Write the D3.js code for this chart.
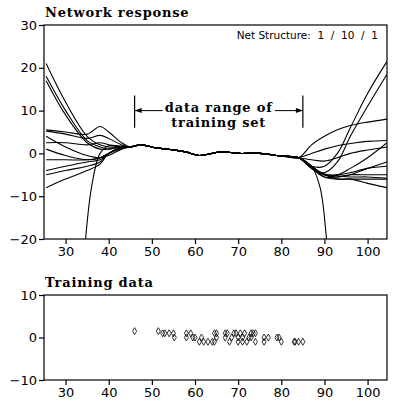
<!DOCTYPE html>
<html>
<head>
<style>
  body { margin: 0; background: #fff; }
  .tick text { font-family: "DejaVu Sans", sans-serif; font-size: 13px; }
  .title { font-family: "DejaVu Serif", serif; font-weight: bold; font-size: 13px; letter-spacing: 0.8px; }
</style>
</head>
<body>
<script src="https://d3js.org/d3.v7.min.js"></script>
<script>
var width = 400, height = 409;

// shared part of every curve inside the training range
var centerX = [45, 47.5, 51, 55, 58, 61, 63, 66, 70, 75, 80, 84];
var centerY = [1.5, 2, 1.3, 0.8, 0.3, -0.5, -0.2, 0.4, 0, 0, -0.6, -1];

// left tails: [x, y] pairs ending near x=43
var leftTails = [
    [[25.5, 21], [30, 12], [35, 4], [38, 2], [40, 1.5], [43, 1.5]],
    [[25.5, 18], [30, 10], [35, 3], [38, 1.5], [40, 1], [43, 1.5]],
    [[25.5, 17], [30, 9], [35, 2.5], [38, 1], [40, 1], [43, 1.5]],
    [[25.5, 5.5], [30, 5], [35, 4.5], [38, 6.3], [40, 5], [43, 2.5]],
    [[25.5, 5.2], [30, 4.5], [35, 3.5], [38, 4.2], [40, 3.5], [43, 2]],
    [[25.5, 4], [30, 1.5], [35, -0.5], [38, -1], [40, -0.5], [43, 1]],
    [[25.5, 2.5], [30, 2.5], [35, 2], [38, 2.5], [40, 2], [43, 1.5]],
    [[25.5, 1], [30, -0.5], [35, -1.5], [38, -1], [40, 0], [43, 1.3]],
    [[25.5, -1.5], [30, -1.5], [35, -1.5], [38, -1], [40, 0], [43, 1.2]],
    [[25.5, -4], [30, -3], [35, -2], [38, -1.5], [40, 0], [43, 1.3]],
    [[25.5, -5], [30, -4], [35, -3], [38, -2], [40, 0], [43, 1.3]],
    [[25.5, -8], [30, -6], [35, -4], [38, -2.5], [40, 0], [43, 1.3]],
    [[34, -28], [36, -8], [38, 0], [40, 1.8], [43, 1.7]]
];

// right tails: [x, y] pairs starting after x=84
var rightTails = [
    [[87, -3], [90, -3], [93, 0], [96, 6], [100, 14], [104.5, 21.5]],
    [[87, -3.5], [90, -4.5], [93, -2], [96, 4], [100, 11], [104.5, 18.5]],
    [[87, 2], [90, 4], [93, 5.5], [96, 6.5], [100, 7.3], [104.5, 8]],
    [[87, 0], [90, 1], [93, 1.8], [96, 2.3], [100, 2.8], [104.5, 3]],
    [[87, -1.5], [90, -1.8], [93, -1], [96, 0], [100, 0.8], [104.5, 1.5]],
    [[87, -3], [90, -5], [93, -5], [96, -3.5], [100, -1], [104.5, 2.5]],
    [[87, -3], [90, -5], [93, -5.5], [96, -5], [100, -3.5], [104.5, -2]],
    [[87, -3.5], [90, -5.5], [93, -5.5], [96, -5], [100, -5], [104.5, -5]],
    [[87, -3], [90, -5], [93, -6], [96, -6], [100, -6], [104.5, -6]],
    [[87, -3], [90, -5.5], [93, -6], [96, -6], [100, -7], [104.5, -8]],
    [[87, -3], [90, -5], [93, -5], [96, -4.5], [100, -3.5], [104.5, -3]],
    [[87, -3.2], [90, -4.8], [93, -5.2], [96, -5.5], [100, -5.5], [104.5, -5.8]],
    [[87, -3], [89, -8], [90.5, -20], [92, -35]]
];

// training set
var trainX = [46, 51.5, 52.5, 53, 54, 55, 55.2, 58, 58, 59, 59.5, 60, 61, 61.5, 62, 63, 64, 64.5, 64.5, 65, 65,
    67, 67, 67.5, 68, 68.5, 69, 69.5, 70, 70, 70.5, 71, 71, 71.5, 72, 72.5, 73, 73, 73.5, 74, 74,
    76, 76, 77, 79, 79.5, 80, 83, 83.2, 84, 85];
var trainY = [1.5, 1.5, 1, 1, 1, 1, 0, 1, 0, 1, 0, 0, -1, 0, -1, -1, -1, 1, -1, 0, 1,
    0, 1, 1, -1, 0, 1, 1, -1, 0, 1, 0, -1, 1, -1, 0, 1, 0, 1, -1, 1,
    0, -1, 0, 0, 0, -1, -1, -1, -1, -1];

var xTicks = [30, 40, 50, 60, 70, 80, 90, 100];

var svg = d3.select('body').append('svg')
    .attr('width', width)
    .attr('height', height);

var x = d3.scaleLinear().domain([25, 104.5]).range([44, 387]);
var yTop = d3.scaleLinear().domain([-20, 30]).range([239, 25]);
var yBot = d3.scaleLinear().domain([-10, 10]).range([380, 295]);

function frame(y, bottom, yTicks) {
    svg.append('rect')
        .attr('x', x.range()[0]).attr('y', y.range()[1])
        .attr('width', x.range()[1] - x.range()[0])
        .attr('height', y.range()[0] - y.range()[1])
        .attr('fill', 'none').attr('stroke', '#000').attr('stroke-width', 1.2);
    var gx = svg.append('g').attr('transform', 'translate(0,' + bottom + ')')
        .call(d3.axisBottom(x).tickValues(xTicks).tickSize(5).tickPadding(3));
    var gy = svg.append('g').attr('transform', 'translate(' + x.range()[0] + ',0)')
        .call(d3.axisLeft(y).tickValues(yTicks).tickSize(5).tickPadding(2)
            .tickFormat(function (d) { return d < 0 ? '\u2212' + (-d) : d; }));
    [gx, gy].forEach(function (g) {
        g.select('.domain').remove();
        g.selectAll('.tick line').attr('stroke-width', 1.2);
    });
}

frame(yTop, 239, [-20, -10, 0, 10, 20, 30]);
frame(yBot, 380, [-10, 0, 10]);

svg.append('defs').append('clipPath').attr('id', 'clipTop')
    .append('rect').attr('x', 44).attr('y', 25).attr('width', 343).attr('height', 214);

var line = d3.line()
    .x(function (d) { return x(d[0]); })
    .y(function (d) { return yTop(d[1]); })
    .curve(d3.curveCatmullRom.alpha(0.5));

var center = centerX.map(function (v, i) { return [v, centerY[i]]; });
var curves = leftTails.map(function (l, i) { return l.concat(center, rightTails[i]); });

svg.append('g').attr('clip-path', 'url(#clipTop)')
    .selectAll('path').data(curves).enter().append('path')
    .attr('d', line)
    .attr('fill', 'none').attr('stroke', '#000').attr('stroke-width', 1.1);

// data range annotation
var ann = svg.append('g');
[46, 85].forEach(function (v) {
    ann.append('line').attr('x1', x(v)).attr('x2', x(v))
        .attr('y1', yTop(13.5)).attr('y2', yTop(6))
        .attr('stroke', '#000').attr('stroke-width', 1.2);
});
ann.append('line').attr('x1', x(46)).attr('x2', x(52.5)).attr('y1', yTop(10)).attr('y2', yTop(10)).attr('stroke', '#000');
ann.append('line').attr('x1', x(78.5)).attr('x2', x(85)).attr('y1', yTop(10)).attr('y2', yTop(10)).attr('stroke', '#000');
ann.append('path').attr('d', 'M' + x(46) + ',' + yTop(10) + 'l7,-2.5l0,5z');
ann.append('path').attr('d', 'M' + x(85) + ',' + yTop(10) + 'l-7,-2.5l0,5z');
ann.append('text').attr('class', 'title').attr('x', x(65.5)).attr('y', yTop(10) + 1)
    .attr('text-anchor', 'middle').text('data range of');
ann.append('text').attr('class', 'title').attr('x', x(65.5)).attr('y', yTop(10) + 16)
    .attr('text-anchor', 'middle').text('training set');

svg.append('text').attr('x', 378).attr('y', 39).attr('text-anchor', 'end')
    .style('font-family', '"DejaVu Sans", sans-serif').style('font-size', '10.5px')
    .style('white-space', 'pre')
    .text('Net Structure:  1  /  10  /  1');

svg.append('text').attr('class', 'title').attr('x', 45).attr('y', 17).text('Network response');
svg.append('text').attr('class', 'title').attr('x', 45).attr('y', 287).text('Training data');

// training points as diamonds
svg.append('g').selectAll('path').data(trainX).enter().append('path')
    .attr('d', d3.symbol().type(d3.symbolDiamond).size(14))
    .attr('transform', function (d, i) { return 'translate(' + x(d) + ',' + yBot(trainY[i]) + ')'; })
    .attr('fill', 'none').attr('stroke', '#000').attr('stroke-width', 0.8);
</script>
</body>
</html>
